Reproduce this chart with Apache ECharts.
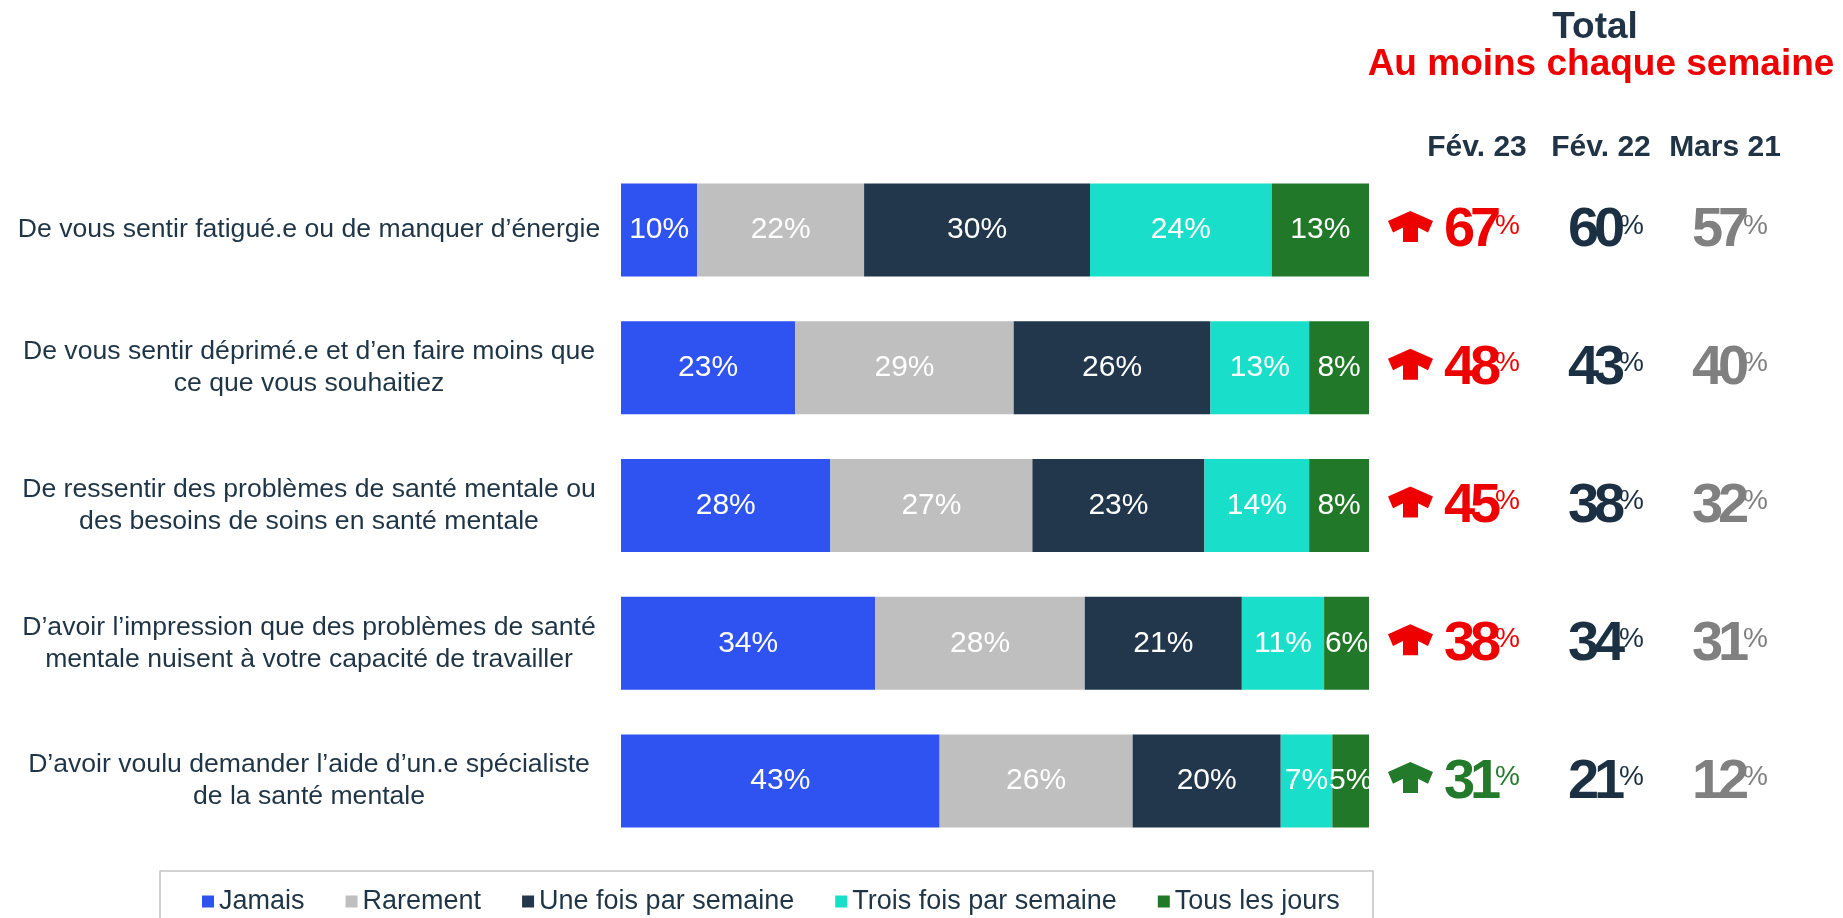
<!DOCTYPE html>
<html>
<head>
<meta charset="utf-8">
<script src="https://cdn.jsdelivr.net/npm/echarts@6/dist/echarts.min.js"></script>
<style>
  html, body { margin: 0; padding: 0; background: #fff; }
  #chart { width: 1843px; height: 918px; }
</style>
</head>
<body>
<div id="chart"></div>
<script>
// questions (axe des catégories)
const categories = [
  'De vous sentir fatigué.e ou de manquer d’énergie',
  'De vous sentir déprimé.e et d’en faire moins que\nce que vous souhaitiez',
  'De ressentir des problèmes de santé mentale ou\ndes besoins de soins en santé mentale',
  'D’avoir l’impression que des problèmes de santé\nmentale nuisent à votre capacité de travailler',
  'D’avoir voulu demander l’aide d’un.e spécialiste\nde la santé mentale'
];

const seriesNames = ['Jamais', 'Rarement', 'Une fois par semaine', 'Trois fois par semaine', 'Tous les jours'];

const jamais = [10.2, 23.3, 28, 34, 42.6];
const rarement = [22.3, 29.2, 27, 28, 25.8];
const uneFois = [30.2, 26.3, 23, 21, 19.8];
const troisFois = [24.3, 13.2, 14, 11, 6.9];
const tousLesJours = [13, 8, 8, 6, 4.9];

// total "au moins chaque semaine"
const periods = ['Fév. 23', 'Fév. 22', 'Mars 21'];
const fev23 = [67, 48, 45, 38, 31];
const fev22 = [60, 43, 38, 34, 21];
const mars21 = [57, 40, 32, 31, 12];

const FONT = '"Liberation Sans", Arial, sans-serif';
const NAVY = '#1f3546';
const barColors = ['#2f53f0', '#bfbfbf', '#22374c', '#19dfca', '#217828'];
const fev23Colors = ['#ee0000', '#ee0000', '#ee0000', '#ee0000', '#237a2b'];
const arrowPath = 'M67,0 L135,30 L120,65 L90,50 L90,93 L45,93 L45,50 L15,65 L0,30 Z';

const chart = echarts.init(document.getElementById('chart'));

const barSeries = [jamais, rarement, uneFois, troisFois, tousLesJours].map((vals, i) => ({
  name: seriesNames[i],
  type: 'bar',
  stack: 'total',
  xAxisIndex: 0,
  yAxisIndex: 0,
  barCategoryGap: '32.5%',
  itemStyle: { color: barColors[i] },
  label: {
    show: true,
    position: 'inside',
    color: '#fff',
    fontFamily: FONT,
    fontSize: 30,
    formatter: p => Math.round(p.value) + '%'
  },
  data: vals
}));

const totals = [];
categories.forEach((c, r) => {
  totals.push([0, r, fev23[r]]);
  totals.push([1, r, fev22[r]]);
  totals.push([2, r, mars21[r]]);
});

const option = {
  animation: false,
  backgroundColor: '#fff',
  textStyle: { fontFamily: FONT },
  grid: [
    { left: 621, right: 474, top: 161, height: 689 },
    { left: 1415, right: 56, top: 161, height: 689 }
  ],
  xAxis: [
    { gridIndex: 0, type: 'value', min: 0, max: 100, show: false },
    {
      gridIndex: 1, type: 'category', position: 'top', data: periods,
      axisLine: { show: false }, axisTick: { show: false },
      axisLabel: { interval: 0, fontFamily: FONT, fontSize: 30, fontWeight: 'bold', color: '#203446', margin: -2 }
    }
  ],
  yAxis: [
    {
      gridIndex: 0, type: 'category', inverse: true, data: categories,
      axisLine: { show: false }, axisTick: { show: false },
      axisLabel: { align: 'center', margin: 312, fontFamily: FONT, fontSize: 26.6, lineHeight: 32, color: NAVY }
    },
    { gridIndex: 1, type: 'category', inverse: true, data: categories, show: false }
  ],
  legend: {
    left: 202,
    top: 888,
    padding: 0,
    itemWidth: 12,
    itemHeight: 12,
    itemGap: 41,
    icon: 'rect',
    data: seriesNames,
    textStyle: { fontFamily: FONT, fontSize: 27, color: NAVY }
  },
  graphic: [
    { type: 'rect', shape: { x: 160, y: 871, width: 1213, height: 80 }, style: { fill: 'none', stroke: '#c4c4c4', lineWidth: 1.5 } },
    { type: 'text', x: 1595, y: 28, style: { text: 'Total', font: 'bold 37px ' + FONT, fill: '#203446', align: 'center', verticalAlign: 'middle' } },
    { type: 'text', x: 1601, y: 65, style: { text: 'Au moins chaque semaine', font: 'bold 37px ' + FONT, fill: '#ee0000', align: 'center', verticalAlign: 'middle' } }
  ],
  series: barSeries.concat([{
    type: 'custom',
    xAxisIndex: 1,
    yAxisIndex: 1,
    encode: { x: 0, y: 1 },
    data: totals,
    renderItem(params, api) {
      const col = api.value(0);
      const row = api.value(1);
      const digits = String(api.value(2));
      const p = api.coord([col, row]);
      const color = col === 0 ? fev23Colors[row] : (col === 1 ? '#1b3042' : '#808080');
      const x0 = p[0] - 33;
      const adv = 26; // chiffres serrés
      const children = digits.split('').map((d, k) => ({
        type: 'text', x: x0 + k * adv, y: p[1] + 1,
        style: { text: d, fill: color, font: 'bold 56px ' + FONT, align: 'left', verticalAlign: 'middle' }
      }));
      children.push({
        type: 'text', x: x0 + digits.length * adv - 1, y: p[1] - 4,
        style: { text: '%', fill: color, font: '28px ' + FONT, align: 'left', verticalAlign: 'middle' }
      });
      if (col === 0) {
        children.push({
          type: 'path',
          shape: { pathData: arrowPath, x: p[0] - 89, y: p[1] - 19, width: 45, height: 31 },
          style: { fill: color }
        });
      }
      return { type: 'group', children };
    }
  }])
};

chart.setOption(option);
</script>
</body>
</html>
